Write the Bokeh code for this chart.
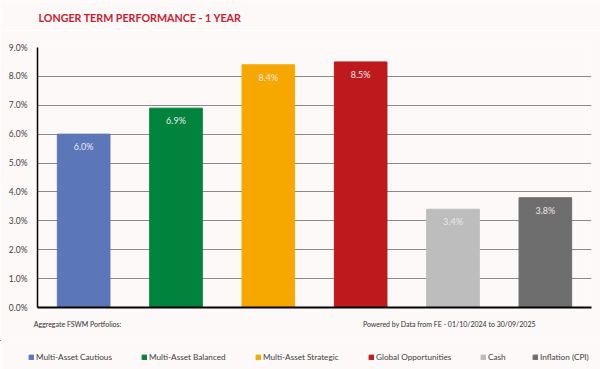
from bokeh.plotting import figure
from bokeh.models import (ColumnDataSource, Legend, LegendItem, FixedTicker, PrintfTickFormatter,
                          Range1d, Label)
from bokeh.core.properties import value
from bokeh.embed import file_html
from bokeh.resources import INLINE

categories = ["Multi-Asset Cautious", "Multi-Asset Balanced", "Multi-Asset Strategic",
              "Global Opportunities", "Cash", "Inflation (CPI)"]
returns = [6.0, 6.9, 8.4, 8.5, 3.4, 3.8]
colors = ["#5b76b9", "#00843d", "#f7a800", "#be1a1d", "#bdbdbd", "#6e6e6e"]
y_ticks = [0, 1, 2, 3, 4, 5, 6, 7, 8, 9]
title_text = "LONGER TERM PERFORMANCE - 1 YEAR"
footnotes = ["Aggregate FSWM Portfolios:", "Powered by Data from FE - 01/10/2024 to 30/09/2025"]
footnote_pos = [-0.066, 3.96]   # x position (in category slots) where each footnote is centred
legend_x = [28, 141, 255, 368, 480, 532]   # pixel offsets of the legend entries

FONT = "Lato"
BG = "#fcf9f8"

idx = list(range(len(categories)))
src = ColumnDataSource(dict(x=idx, cat=categories, val=returns, color=colors,
                            lbl=[f"{v:.1f}%" for v in returns]))


def strip(height, x_range, y_range):
    f = figure(width=600, height=height, x_range=x_range, y_range=y_range,
               output_backend="svg", toolbar_location=None,
               min_border_left=0, min_border_right=0, min_border_top=0, min_border_bottom=0)
    f.background_fill_color = BG
    f.border_fill_color = BG
    f.outline_line_color = None
    f.axis.visible = False
    f.grid.visible = False
    return f


# ---------------- title strip ----------------
t = strip(30, Range1d(0, 1), Range1d(0, 1))
t.add_layout(Label(x=38, y=13, x_units="screen", y_units="screen", text=title_text,
                   text_color="#c8202f", text_font=FONT, text_font_size="10.7px",
                   text_font_style="bold", text_baseline="middle", text_align="left"))

# ---------------- main chart ----------------
p = figure(width=600, height=310, x_range=Range1d(-0.5, len(categories) - 0.5),
           y_range=Range1d(0, 9),
           output_backend="svg", toolbar_location=None,
           min_border_left=37, min_border_right=9, min_border_top=17, min_border_bottom=33)
p.background_fill_color = BG
p.border_fill_color = BG
p.outline_line_color = None

p.vbar(x="x", top="val", width=0.57, color="color", source=src)

p.text(x="x", y="val", text="lbl", source=src, y_offset=7,
       text_align="center", text_baseline="top", text_color="#eaeaea",
       text_font=value(FONT), text_font_size="9px")

p.xgrid.grid_line_color = None
p.ygrid.grid_line_color = "#8a8a8a"
p.ygrid.grid_line_width = 1
p.ygrid.ticker = FixedTicker(ticks=y_ticks)

p.yaxis.ticker = FixedTicker(ticks=y_ticks)
p.yaxis.formatter = PrintfTickFormatter(format="%.1f%%")
p.yaxis.major_tick_line_color = None
p.yaxis.minor_tick_line_color = None
p.yaxis.axis_line_color = "black"
p.yaxis.axis_line_width = 1.5
p.yaxis.major_label_text_font = FONT
p.yaxis.major_label_text_font_size = "8.5px"
p.yaxis.major_label_text_color = "#404040"
p.yaxis.major_label_standoff = 4

xa = p.xaxis[0]
xa.ticker = FixedTicker(ticks=footnote_pos)
xa.major_label_overrides = {pos: txt for pos, txt in zip(footnote_pos, footnotes)}
xa.axis_line_color = "black"
xa.axis_line_width = 2
xa.major_tick_line_color = None
xa.minor_tick_line_color = None
xa.major_label_standoff = 6
xa.major_label_text_font = FONT
xa.major_label_text_font_size = "7px"
xa.major_label_text_color = "#303030"

# ---------------- legend strip ----------------
q = strip(29, Range1d(1000, 1001), Range1d(-100, -90))
# bars far outside the visible ranges: only their legend swatches are seen
lr = q.vbar(x="x", top="val", width=0.5, color="color", source=src)

for i, (c, lx) in enumerate(zip(categories, legend_x)):
    leg = Legend(items=[LegendItem(label=c, renderers=[lr], index=i)],
                 orientation="horizontal", location=(lx, 7),
                 glyph_width=6, glyph_height=6, label_standoff=2, spacing=0,
                 padding=0, margin=0, label_height=10,
                 label_text_font=FONT, label_text_font_size="8.2px", label_text_color="#404040",
                 border_line_color=None, background_fill_alpha=0)
    q.add_layout(leg, "center")

open("out.html", "w").write(file_html([t, p, q], INLINE))
